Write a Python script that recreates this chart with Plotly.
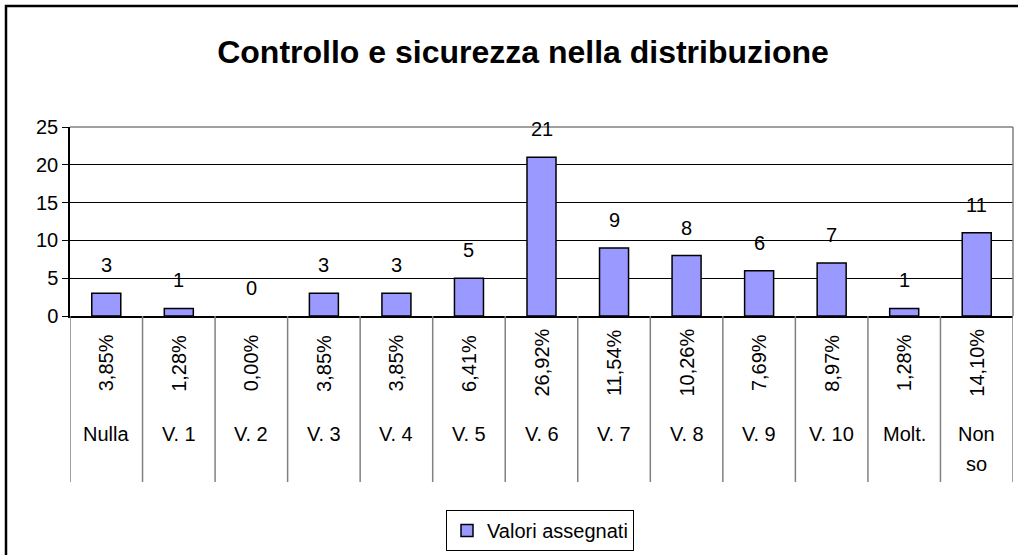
import plotly.graph_objects as go

# Data
categories = ["Nulla", "V. 1", "V. 2", "V. 3", "V. 4", "V. 5", "V. 6",
              "V. 7", "V. 8", "V. 9", "V. 10", "Molt.", "Non so"]
values = [3, 1, 0, 3, 3, 5, 21, 9, 8, 6, 7, 1, 11]
percentages = ["3,85%", "1,28%", "0,00%", "3,85%", "3,85%", "6,41%", "26,92%",
               "11,54%", "10,26%", "7,69%", "8,97%", "1,28%", "14,10%"]
y_ticks = [0, 5, 10, 15, 20, 25]

FONT = "Arial, Liberation Sans, sans-serif"
W, H = 1018, 555
L, R, T, B = 70, 1013, 127, 316  # plot area in pixels

def px_x(p):
    return (p - L) / (R - L)

def px_y(p):
    return (B - p) / (B - T)

xs = list(range(len(categories)))

fig = go.Figure()
fig.add_trace(go.Bar(
    x=xs, y=values, name="Valori assegnati",
    marker=dict(color="#9999FF",
                line=dict(color="black", width=[1.5 if v > 0 else 0 for v in values])),
    width=0.4,
))

annotations = []
shapes = []

# value labels above bars
for x, v in zip(xs, values):
    annotations.append(dict(x=x, y=v, xref="x", yref="y", text=str(v),
                            showarrow=False, yanchor="middle", yshift=28,
                            font=dict(size=20, color="black")))

# category table below the axis
for x, pct, cat in zip(xs, percentages, categories):
    annotations.append(dict(x=x, y=0, xref="x", yref="paper", text=pct,
                            textangle=-90, showarrow=False, yanchor="middle",
                            yshift=-(363 - B), font=dict(size=20, color="black")))
    lines = cat.split(" ") if cat == "Non so" else [cat]
    for k, line in enumerate(lines):
        annotations.append(dict(x=x, y=0, xref="x", yref="paper", text=line,
                                showarrow=False, yanchor="middle",
                                yshift=-(434 - B) - 30 * k,
                                font=dict(size=20, color="black")))

for i in range(len(categories) + 1):
    shapes.append(dict(type="line", xref="x", yref="paper",
                       x0=i - 0.5, x1=i - 0.5, y0=0, y1=px_y(482),
                       line=dict(color="#808080", width=1.5)))

# plot area top/right border
shapes.append(dict(type="line", xref="paper", yref="paper", x0=0, x1=1, y0=1, y1=1,
                   line=dict(color="#808080", width=1.5)))
shapes.append(dict(type="line", xref="paper", yref="paper", x0=1, x1=1, y0=0, y1=1,
                   line=dict(color="#808080", width=1.5)))

# outer chart border
shapes.append(dict(type="rect", xref="paper", yref="paper",
                   x0=px_x(6), x1=px_x(1030), y0=px_y(570), y1=px_y(6),
                   line=dict(color="black", width=2.5)))

fig.update_layout(
    width=W, height=H,
    margin=dict(l=L, r=W - R, t=T, b=H - B),
    paper_bgcolor="white", plot_bgcolor="white",
    font=dict(family=FONT, size=20, color="black"),
    title=dict(text="<b>Controllo e sicurezza nella distribuzione</b>",
               x=523 / W, xanchor="center", y=1 - 52 / H, yanchor="middle",
               font=dict(size=32, color="black")),
    showlegend=True,
    legend=dict(x=px_x(540), xanchor="center", y=px_y(510), yanchor="top",
                orientation="h", bordercolor="black", borderwidth=1,
                font=dict(size=20), itemwidth=30),
    annotations=annotations,
    shapes=shapes,
    bargap=0.6,
)

fig.update_xaxes(range=[-0.5, len(categories) - 0.5], showticklabels=False,
                 showgrid=False, zeroline=False, showline=True,
                 linecolor="black", linewidth=1.5, ticks="")
fig.update_yaxes(range=[0, 25], tickvals=y_ticks, showgrid=True,
                 gridcolor="black", gridwidth=1, zeroline=False,
                 showline=True, linecolor="black", linewidth=1.5,
                 ticks="outside", ticklen=6, tickcolor="black",
                 tickfont=dict(size=20))

fig.write_html("out.html", config={"displayModeBar": False},
               post_script="document.body.style.margin='0';")
